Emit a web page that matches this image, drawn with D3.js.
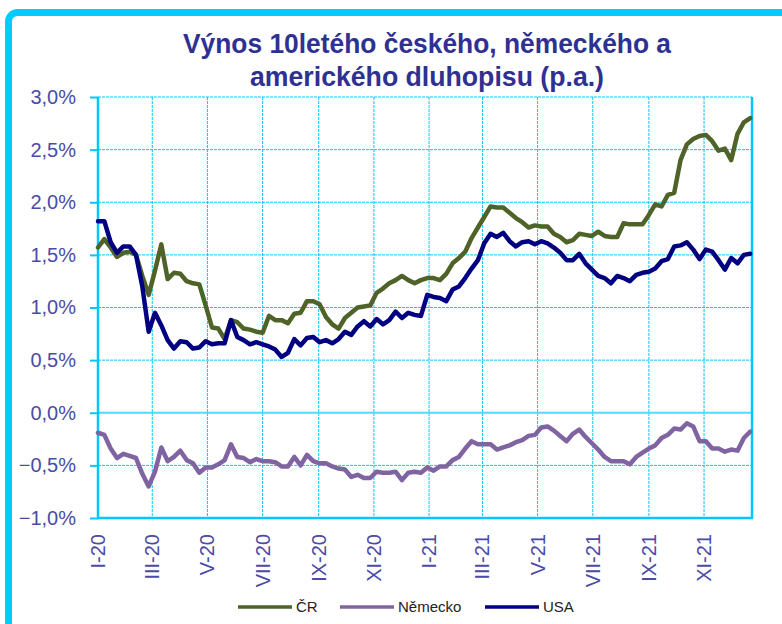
<!DOCTYPE html>
<html>
<head>
<meta charset="utf-8">
<script src="https://cdn.jsdelivr.net/npm/d3@7"></script>
<style>
  body { margin: 0; background: #fff; }
  svg { display: block; font-family: "Liberation Sans", Arial, sans-serif; }
</style>
</head>
<body>
<div id="chart"></div>
<script>
// weekly yields in %, first point 1 Jan 2020
const cz = [1.57, 1.65, 1.57, 1.48, 1.52, 1.53, 1.50, 1.30, 1.12, 1.35,
  1.60, 1.27, 1.33, 1.32, 1.25, 1.23, 1.22, 1.02, 0.81, 0.80,
  0.70, 0.88, 0.86, 0.80, 0.79, 0.77, 0.76, 0.92, 0.88, 0.88,
  0.85, 0.94, 0.95, 1.06, 1.06, 1.03, 0.91, 0.84, 0.80, 0.90,
  0.95, 1.00, 1.01, 1.02, 1.14, 1.18, 1.23, 1.26, 1.30, 1.26,
  1.23, 1.26, 1.28, 1.28, 1.26, 1.32, 1.42, 1.47, 1.53, 1.66,
  1.76, 1.86, 1.96, 1.95, 1.95, 1.90, 1.85, 1.81, 1.76, 1.78,
  1.77, 1.77, 1.70, 1.67, 1.62, 1.64, 1.70, 1.69, 1.68, 1.72,
  1.68, 1.67, 1.67, 1.80, 1.79, 1.79, 1.79, 1.88, 1.98, 1.96,
  2.07, 2.09, 2.40, 2.55, 2.60, 2.63, 2.64, 2.58, 2.49, 2.51,
  2.40, 2.65, 2.76, 2.80];
const de = [-0.19, -0.21, -0.34, -0.43, -0.39, -0.41, -0.43, -0.58, -0.70, -0.56,
  -0.33, -0.46, -0.42, -0.36, -0.45, -0.48, -0.57, -0.52, -0.52, -0.49,
  -0.45, -0.30, -0.42, -0.43, -0.47, -0.44, -0.46, -0.46, -0.47, -0.51,
  -0.51, -0.42, -0.50, -0.40, -0.46, -0.48, -0.48, -0.51, -0.53, -0.54,
  -0.61, -0.59, -0.62, -0.62, -0.56, -0.57, -0.57, -0.56, -0.64, -0.57,
  -0.56, -0.57, -0.52, -0.55, -0.51, -0.51, -0.45, -0.42, -0.34, -0.27,
  -0.30, -0.30, -0.30, -0.35, -0.33, -0.31, -0.28, -0.26, -0.22, -0.21,
  -0.14, -0.13, -0.17, -0.22, -0.27, -0.20, -0.16, -0.23, -0.29, -0.35,
  -0.42, -0.46, -0.46, -0.46, -0.49, -0.42, -0.38, -0.34, -0.31, -0.24,
  -0.21, -0.15, -0.16, -0.10, -0.13, -0.27, -0.27, -0.34, -0.34, -0.37,
  -0.35, -0.36, -0.24, -0.18];
const us = [1.82, 1.82, 1.62, 1.52, 1.58, 1.58, 1.50, 1.20, 0.77, 0.95,
  0.83, 0.69, 0.61, 0.68, 0.67, 0.61, 0.62, 0.68, 0.65, 0.66,
  0.66, 0.88, 0.72, 0.69, 0.65, 0.67, 0.65, 0.63, 0.60, 0.53,
  0.57, 0.70, 0.64, 0.71, 0.72, 0.67, 0.69, 0.66, 0.70, 0.77,
  0.74, 0.82, 0.87, 0.82, 0.89, 0.84, 0.88, 0.96, 0.90, 0.95,
  0.93, 0.92, 1.12, 1.10, 1.09, 1.06, 1.17, 1.20, 1.28, 1.37,
  1.45, 1.61, 1.70, 1.67, 1.71, 1.63, 1.58, 1.62, 1.63, 1.60,
  1.63, 1.61, 1.57, 1.52, 1.45, 1.45, 1.51, 1.42, 1.36, 1.30,
  1.28, 1.23, 1.30, 1.28, 1.25, 1.31, 1.33, 1.34, 1.37, 1.44,
  1.46, 1.58, 1.59, 1.62, 1.55, 1.46, 1.55, 1.53, 1.45, 1.36,
  1.47, 1.42, 1.50, 1.51];

const seriesNames = ["ČR", "Německo", "USA"];
const seriesColors = ["#4f6228", "#8064a2", "#000080"];
const monthLabels = ["I-20", "III-20", "V-20", "VII-20", "IX-20", "XI-20",
  "I-21", "III-21", "V-21", "VII-21", "IX-21", "XI-21"];
const yTicks = [-1, -0.5, 0, 0.5, 1, 1.5, 2, 2.5, 3];

const width = 782, height = 624;
const plot = {left: 98, right: 752, top: 97, bottom: 518};
const gridColor = "#00c8ff";
const labelColor = "#4b4ba6";

const startDate = new Date(2020, 0, 1);
const dates = cz.map((d, i) => d3.timeDay.offset(startDate, 7 * i));
const tickDates = monthLabels.map((d, i) => d3.timeMonth.offset(startDate, 2 * i));

const x = d3.scaleTime()
    .domain([startDate, new Date(2021, 11, 24)])
    .range([plot.left, plot.right]);
const y = d3.scaleLinear()
    .domain([-1, 3])
    .range([plot.bottom, plot.top]);

const svg = d3.select("#chart")
    .append("svg")
    .attr("width", width)
    .attr("height", height);

// outer frame
svg.append("rect")
    .attr("x", 8.5).attr("y", 12.5)
    .attr("width", 800).attr("height", 640)
    .attr("rx", 9)
    .attr("fill", "#fff")
    .attr("stroke", "#00ccff")
    .attr("stroke-width", 7);

// title (narrow bold face, squeezed to the original width)
const title = svg.append("text")
    .attr("text-anchor", "middle")
    .attr("fill", "#2e3192")
    .attr("font-weight", "bold")
    .attr("font-size", 28);
title.append("tspan").attr("x", 427).attr("y", 53)
    .attr("textLength", 488).attr("lengthAdjust", "spacingAndGlyphs")
    .text("Výnos 10letého českého, německého a");
title.append("tspan").attr("x", 427).attr("y", 86)
    .attr("textLength", 354).attr("lengthAdjust", "spacingAndGlyphs")
    .text("amerického dluhopisu (p.a.)");

// grid
const grid = svg.append("g");
grid.selectAll(".hgrid")
    .data(yTicks.filter(d => d !== 0 && d !== -1))
    .enter().append("line")
    .attr("x1", plot.left).attr("x2", plot.right)
    .attr("y1", d => y(d)).attr("y2", d => y(d))
    .attr("stroke", gridColor)
    .attr("stroke-width", 1)
    .attr("stroke-dasharray", "3,1");
grid.selectAll(".vgrid")
    .data(tickDates.slice(1))
    .enter().append("line")
    .attr("x1", d => x(d)).attr("x2", d => x(d))
    .attr("y1", plot.top).attr("y2", plot.bottom)
    .attr("stroke", gridColor)
    .attr("stroke-width", 1)
    .attr("stroke-dasharray", "3,1");

// zero line
svg.append("line")
    .attr("x1", plot.left).attr("x2", plot.right)
    .attr("y1", y(0)).attr("y2", y(0))
    .attr("stroke", "#55d8ff")
    .attr("stroke-width", 2);

// plot frame: left, bottom, right
svg.append("path")
    .attr("d", `M${plot.left},${plot.top}V${plot.bottom}H${plot.right}V${plot.top}`)
    .attr("fill", "none")
    .attr("stroke", gridColor)
    .attr("stroke-width", 2.5);

// y axis
const fmt = d => d3.format(".1f")(d).replace(".", ",") + "%";
const yAxis = svg.append("g")
    .attr("transform", `translate(${plot.left},0)`)
    .call(d3.axisLeft(y).tickValues(yTicks).tickFormat(fmt).tickSize(8).tickPadding(14));
yAxis.select(".domain").remove();
yAxis.selectAll(".tick line").attr("stroke", gridColor).attr("stroke-width", 2);
yAxis.selectAll(".tick text")
    .attr("fill", labelColor)
    .attr("font-size", 20)
    .attr("font-family", "Liberation Sans, Arial, sans-serif");

// x labels
svg.append("g")
    .selectAll("text")
    .data(monthLabels)
    .enter().append("text")
    .attr("transform", (d, i) => `translate(${x(tickDates[i])},534) rotate(-90)`)
    .attr("text-anchor", "end")
    .attr("dy", "0.35em")
    .attr("fill", labelColor)
    .attr("font-size", 20)
    .text(d => d);

// lines
const series = [cz, de, us];
const line = d3.line()
    .x((d, i) => x(dates[i]))
    .y(d => y(d));
svg.append("g")
    .selectAll("path")
    .data(series)
    .enter().append("path")
    .attr("d", d => line(d))
    .attr("fill", "none")
    .attr("stroke", (d, i) => seriesColors[i])
    .attr("stroke-width", 4.5)
    .attr("stroke-linejoin", "round")
    .attr("stroke-linecap", "round");

// legend
const legendX = [238, 340, 485];
const legend = svg.append("g")
    .selectAll("g")
    .data(seriesNames)
    .enter().append("g")
    .attr("transform", (d, i) => `translate(${legendX[i]},607)`);
legend.append("line")
    .attr("x1", 0).attr("x2", 54)
    .attr("stroke", (d, i) => seriesColors[i])
    .attr("stroke-width", 3.5);
legend.append("text")
    .attr("x", 58).attr("y", 5)
    .attr("font-size", 15)
    .attr("fill", "#222")
    .text(d => d);
</script>
</body>
</html>
